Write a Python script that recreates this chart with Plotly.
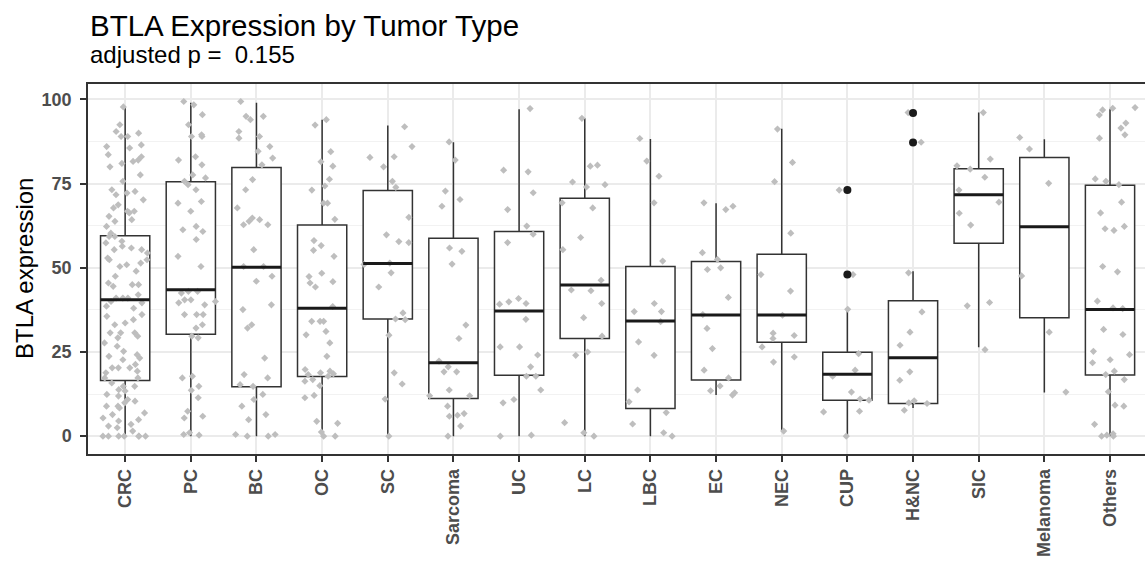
import plotly.graph_objects as go

categories = ["CRC", "PC", "BC", "OC", "SC", "Sarcoma", "UC", "LC", "LBC", "EC",
              "NEC", "CUP", "H&NC", "SIC", "Melanoma", "Others"]

# box statistics
lower_whisker = [0, 0, 0, 0, 0, 0, 0, 0, 0, 12.2, 1.5, 0, 8.4, 26.4, 13.0, 0]
q1_vals       = [16.5, 30.3, 14.7, 17.7, 34.8, 11.2, 18.1, 29.0, 8.2, 16.7, 27.9, 10.7, 9.7, 57.3, 35.2, 18.2]
median_vals   = [40.5, 43.5, 50.2, 38.0, 51.3, 21.8, 37.2, 44.9, 34.2, 36.0, 36.0, 18.4, 23.3, 71.7, 62.2, 37.6]
q3_vals       = [59.5, 75.6, 79.8, 62.7, 73.0, 58.8, 60.8, 70.7, 50.4, 51.9, 54.0, 24.9, 40.2, 79.4, 82.8, 74.5]
upper_whisker = [97.8, 99.0, 99.0, 94.0, 92.3, 87.3, 97.1, 94.4, 88.3, 69.2, 91.3, 38.0, 49.0, 96.1, 88.2, 97.1]

outlier_cats = ["CUP", "CUP", "H&NC", "H&NC"]
outlier_vals = [73.1, 48.0, 96.0, 87.2]

title_text = "BTLA Expression by Tumor Type"
subtitle_text = "adjusted p =  0.155"
y_title = "BTLA expression"

# individual observations (jittered in the chart)
crc = [97.8, 92.5, 90.5, 90, 89, 89, 86.5, 86, 85.6, 83.6, 83, 82, 81.6, 81, 80, 77.6, 75.7, 73.2,
       72.7, 72.2, 71.7, 70.2, 68.7, 67.8, 66.8, 66.8, 66.3, 65.3, 64.3, 63.8, 62.3, 60.3, 59.3, 59.3,
       57.9, 57.4, 56.4, 55.9, 55.4, 55.4, 54.4, 52.9, 52.4, 52.4, 51.4, 50.9, 50.4, 49, 47.5, 45.5,
       45, 45, 44.5, 42, 41, 41, 41, 40, 39.6, 38.6, 38, 36.1, 35.6, 34.6, 33.6, 33.1, 30.7, 30.7,
       30.7, 29.7, 29.2, 27.7, 26.7, 25.2, 24.2, 23.7, 23.2, 22.7, 21.3, 20.3, 20.3, 20.3, 19.3, 18.8,
       17.3, 17.3, 15.8, 14.8, 14.8, 13.8, 13.4, 12.4, 11.9, 10.9, 10.4, 9.9, 8.9, 8.9, 8.4, 6.9, 6.4,
       5.4, 4.9, 4.5, 3.5, 3, 2.5, 1.5, 0, 0, 0, 0, 0, 0, 0]
pc = [99.4, 98.4, 95.5, 92.5, 89.5, 89, 89, 83, 82, 80.6, 77.6, 76.7, 75.7, 74.7, 73.2, 69.7, 69.2,
      66.8, 62.3, 60.8, 61.3, 58.4, 53.4, 50.4, 43, 43, 42.5, 40.5, 40.5, 40, 39.6, 39, 36.1, 36.1,
      36.1, 33.1, 32.1, 29.7, 29.2, 17.8, 17.3, 14.8, 13.6, 11.4, 7.4, 5.9, 5.4, 1, 0.5, 0.3]
bc = [99.4, 95, 95, 94, 90.5, 89, 88.5, 86, 84.6, 82.6, 80.6, 76.2, 73.2, 67.8, 64.8, 64.3, 63.8,
      62.8, 62.8, 55.4, 50.4, 50.4, 47.5, 46, 39, 37.6, 33.1, 32.1, 23.2, 18.3, 17.3, 15.3, 14.8,
      12.4, 10.9, 8.9, 6.4, 4.9, 0.5, 0, 0.5, 0]
oc = [94, 92.4, 84.5, 81.5, 80.2, 76.3, 74.3, 73.1, 69.2, 69.2, 64.4, 58.1, 56.6, 55.2, 53.4, 48.4,
      47.4, 45.9, 45.5, 44.3, 38.5, 34.1, 34.1, 34.1, 31.1, 30.1, 27.7, 23.7, 19.8, 19.3, 18.8, 18.3,
      18.5, 17.8, 16.8, 16.3, 15, 12.1, 11.4, 4.4, 3.8, 1.2, 0, 0]
sc = [91.9, 86, 82.8, 83, 80, 73.9, 75.7, 65, 59.8, 57.8, 57.5, 51, 51.4, 48.5, 44.3, 36.6, 34.8,
      34.6, 30, 18.8, 15.5, 11, 0]
sarcoma = [87.4, 82, 72.8, 70.3, 68.3, 55.9, 54.9, 51.1, 33, 29, 22.3, 20.6, 19.1, 19.1, 13.7, 12,
           12, 8.9, 6.7, 6.2, 5.9, 3, 0]
uc = [97.3, 79, 78.5, 72.3, 67.3, 62.4, 60, 57.5, 40.9, 39.9, 39.4, 39.2, 34.7, 26.5, 26.5, 24.1,
      20.6, 17.8, 17.8, 13.7, 10.9, 9.9, 0.3, 0]
lc = [94.4, 80.5, 80.2, 75.5, 74.7, 74, 69.3, 67.8, 59, 55.4, 46.3, 43.4, 43.2, 39.4, 35.2, 29.7,
      25, 24, 4, 1, 0]
lbc = [88.4, 81.7, 77.2, 69.3, 52, 39.4, 37, 37, 34, 28, 24, 13.7, 10.2, 7, 3.6, 1, 0]
ec = [69.3, 68.3, 67.3, 54.5, 52.5, 50, 49.5, 41.2, 36.1, 32, 26, 19.6, 17.3, 14.9, 13.5, 12.9, 12.2]
nec = [91.2, 81.3, 75.6, 60.3, 48, 43.1, 35.9, 30.6, 29.9, 29, 26.5, 23.5, 22, 1.5]
cup = [73.1, 48, 37.7, 24.5, 19.6, 17.8, 13.1, 11, 10.7, 7.4, 7.2, 0]
hnc = [96.1, 87.3, 48.5, 36.9, 30.9, 27, 19.1, 16.6, 10.5, 9.9, 9.7, 7.7]
sic = [96.1, 82.3, 80.3, 79.3, 76.9, 73.1, 69.5, 66.2, 62.7, 39.7, 38.7, 25.7]
melanoma = [88.7, 85.3, 75.1, 47.6, 30.9, 13.1]
others = [97.4, 97.6, 96.9, 95.4, 93, 91.5, 89.5, 88.5, 75.7, 76.4, 74.7, 69.5, 66.3, 62.3, 61.6,
          61.1, 50.4, 48.8, 40.1, 38.1, 37.9, 31.7, 30.2, 25.2, 24.2, 22.7, 21.8, 19.3, 18.3, 16.8,
          13.2, 9.2, 8.9, 3.5, 0.7, 0.3, 0, 0]

point_groups = [crc, pc, bc, oc, sc, sarcoma, uc, lc, lbc, ec, nec, cup, hnc, sic, melanoma, others]

# ---------------------------------------------------------------------------
idx = list(range(len(categories)))
BOX_W = 0.75
LINE_C = "#333333"

fig = go.Figure()

# boxes from precomputed statistics
fig.add_trace(go.Box(
    x=idx, q1=q1_vals, median=median_vals, q3=q3_vals,
    lowerfence=lower_whisker, upperfence=upper_whisker,
    width=BOX_W, whiskerwidth=0, boxpoints=False,
    fillcolor="white", line=dict(color=LINE_C, width=1.5),
    showlegend=False, hoverinfo="skip"))

# thicker median bars
mx, my = [], []
for i, m in zip(idx, median_vals):
    mx += [i - BOX_W / 2, i + BOX_W / 2, None]
    my += [m, m, None]
fig.add_trace(go.Scatter(x=mx, y=my, mode="lines",
                         line=dict(color="#1a1a1a", width=3),
                         showlegend=False, hoverinfo="skip"))

# outliers
fig.add_trace(go.Scatter(
    x=[categories.index(c) for c in outlier_cats], y=outlier_vals, mode="markers",
    marker=dict(color="#1a1a1a", size=8, symbol="circle"),
    showlegend=False))

# jittered points
px, py = [], []
for i, pts in zip(idx, point_groups):
    px += [i] * len(pts)
    py += pts
fig.add_trace(go.Box(
    x=px, y=py, boxpoints="all", jitter=1, pointpos=0, width=0.8,
    fillcolor="rgba(0,0,0,0)", line=dict(color="rgba(0,0,0,0)", width=0),
    marker=dict(color="#bebebe", size=5.5, symbol="diamond"),
    showlegend=False))

L, T, B = 88, 84, 110
W, H = 1145, 564

fig.update_layout(
    width=W, height=H,
    margin=dict(l=L, r=0, t=T, b=B, pad=0),
    paper_bgcolor="white", plot_bgcolor="white",
    boxmode="overlay",
    font=dict(family="Liberation Sans, Arial, sans-serif"),
    xaxis=dict(
        range=[-0.566, 15.533], tickmode="array", tickvals=idx, ticktext=categories,
        tickangle=-90, tickfont=dict(size=18, color="#4d4d4d", family="Liberation Sans, Arial", weight="bold"),
        ticks="outside", ticklen=6, tickwidth=1.5, tickcolor=LINE_C,
        showgrid=True, gridcolor="#ebebeb", gridwidth=1.5,
        showline=True, linecolor=LINE_C, linewidth=1.5, mirror=True,
        zeroline=False, fixedrange=True),
    yaxis=dict(
        range=[-5.3, 104.6], tickmode="array", tickvals=[0, 25, 50, 75, 100],
        tickfont=dict(size=18, color="#4d4d4d", family="Liberation Sans, Arial", weight="bold"),
        ticks="outside", ticklen=6, tickwidth=1.5, tickcolor=LINE_C, ticklabelstandoff=5,
        showgrid=True, gridcolor="#ebebeb", gridwidth=1.5,
        minor=dict(tickvals=[12.5, 37.5, 62.5, 87.5], showgrid=True, gridcolor="#f2f2f2", gridwidth=1, ticks=""),
        showline=True, linecolor=LINE_C, linewidth=1.5, mirror=False,
        zeroline=False, fixedrange=True),
    annotations=[
        dict(text=title_text, xref="paper", yref="paper", x=0, y=(454 - 25.5) / 370,
             xanchor="left", yanchor="middle", showarrow=False,
             font=dict(size=29.5, color="black")),
        dict(text=subtitle_text, xref="paper", yref="paper", x=0, y=(454 - 55) / 370,
             xanchor="left", yanchor="middle", showarrow=False,
             font=dict(size=24, color="black")),
        dict(text=y_title, xref="paper", yref="paper", x=(24 - L) / (W - L), y=0.5,
             xanchor="center", yanchor="middle", textangle=-90, showarrow=False,
             font=dict(size=24, color="black")),
    ],
)

fig.write_html("out.html")
